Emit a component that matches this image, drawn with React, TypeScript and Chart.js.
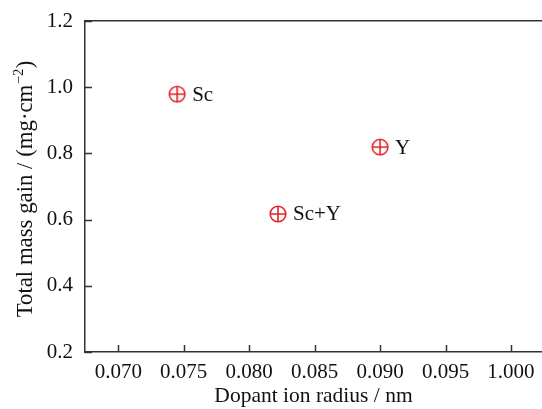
import React, { useEffect, useRef } from "react";
import { Chart, registerables } from "chart.js";

Chart.register(...registerables);

const pointLabels = ["Sc", "Sc+Y", "Y"];
const radiusValues = [0.0745, 0.0822, 0.0900];
const massGainValues = [0.979, 0.617, 0.819];
const xTickValues = [0.07, 0.075, 0.08, 0.085, 0.09, 0.095, 0.1];
const xTickLabels = ["0.070", "0.075", "0.080", "0.085", "0.090", "0.095", "1.000"];
const yTickValues = [0.2, 0.4, 0.6, 0.8, 1.0, 1.2];
const yTickLabels = ["0.2", "0.4", "0.6", "0.8", "1.0", "1.2"];
const xTitle = "Dopant ion radius / nm";
const yTitleMain = "Total mass gain / (mg·cm";
const yTitleSup = "−2";
const yTitleEnd = ")";

const FONT = "'Liberation Serif', 'Times New Roman', serif";
const RED = "#e2232a";
const AXIS = "#333333";
const W = 542;
const H = 416;

function makeMarker(): HTMLCanvasElement {
  const c = document.createElement("canvas");
  c.width = 20;
  c.height = 20;
  const g = c.getContext("2d")!;
  g.strokeStyle = RED;
  g.lineWidth = 1.6;
  g.beginPath();
  g.arc(10, 10, 7.8, 0, Math.PI * 2);
  g.stroke();
  g.beginPath();
  g.moveTo(2.2, 10);
  g.lineTo(17.8, 10);
  g.moveTo(10, 2.2);
  g.lineTo(10, 17.8);
  g.stroke();
  return c;
}

export default function App() {
  const ref = useRef<HTMLCanvasElement>(null);
  useEffect(() => {
    const marker = makeMarker();
    const innerTicks = {
      id: "innerTicks",
      afterDraw(chart: any) {
        const { ctx, chartArea, scales } = chart;
        ctx.save();
        ctx.strokeStyle = AXIS;
        ctx.lineWidth = 1.5;
        ctx.beginPath();
        xTickValues.forEach((v) => {
          const px = Math.round(scales.x.getPixelForValue(v)) + 0.5;
          ctx.moveTo(px, chartArea.bottom);
          ctx.lineTo(px, chartArea.bottom - 7);
        });
        yTickValues.forEach((v) => {
          const py = Math.round(scales.y.getPixelForValue(v)) + 0.5;
          ctx.moveTo(chartArea.left, py);
          ctx.lineTo(chartArea.left + 7, py);
        });
        ctx.stroke();
        ctx.restore();
      },
    };
    const yTitlePlugin = {
      id: "yTitle",
      afterDraw(chart: any) {
        const { ctx, chartArea } = chart;
        const cy = (chartArea.top + chartArea.bottom) / 2 + 2.5;
        ctx.save();
        ctx.translate(26, cy);
        ctx.rotate(-Math.PI / 2);
        ctx.fillStyle = "#111";
        ctx.textBaseline = "middle";
        ctx.textAlign = "left";
        const mainFont = `22.8px ${FONT}`;
        const supFont = `14.5px ${FONT}`;
        ctx.font = mainFont;
        const w1 = ctx.measureText(yTitleMain).width;
        const w3 = ctx.measureText(yTitleEnd).width;
        ctx.font = supFont;
        const w2 = ctx.measureText(yTitleSup).width + 1;
        const total = w1 + w2 + w3;
        let x = -total / 2;
        ctx.font = mainFont;
        ctx.fillText(yTitleMain, x, 0);
        x += w1;
        ctx.font = supFont;
        ctx.fillText(yTitleSup, x + 0.5, -7);
        x += w2;
        ctx.font = mainFont;
        ctx.fillText(yTitleEnd, x, 0);
        ctx.restore();
      },
    };
    const labelsPlugin = {
      id: "pointLabels",
      afterDatasetsDraw(chart: any) {
        const { ctx } = chart;
        const meta = chart.getDatasetMeta(0);
        ctx.save();
        ctx.fillStyle = "#111";
        ctx.font = `21px ${FONT}`;
        ctx.textBaseline = "middle";
        ctx.textAlign = "left";
        meta.data.forEach((pt: any, i: number) => {
          ctx.fillText(pointLabels[i], pt.x + 15, pt.y + 1);
        });
        ctx.restore();
      },
    };
    const chart = new Chart(ref.current!, {
      type: "scatter",
      data: {
        datasets: [
          {
            data: radiusValues.map((x, i) => ({ x, y: massGainValues[i] })),
            pointStyle: marker as any,
            pointRadius: 10,
          },
        ],
      },
      options: {
        animation: false,
        responsive: false,
        maintainAspectRatio: false,
        layout: { autoPadding: false, padding: { top: 20, right: 0, left: 0, bottom: 0 } },
        plugins: { legend: { display: false }, tooltip: { enabled: false } },
        scales: {
          x: {
            type: "linear",
            min: 0.06746,
            max: 0.10237,
            afterBuildTicks(scale: any) {
              scale.ticks = xTickValues.map((v) => ({ value: v }));
            },
            afterFit(scale: any) {
              scale.height = H - 352;
              scale.paddingLeft = 0;
              scale.paddingRight = 0;
            },
            ticks: {
              color: "#111",
              font: { family: FONT, size: 21 },
              padding: 8,
              maxRotation: 0,
              autoSkip: false,
              callback: (v: any) => {
                const i = xTickValues.findIndex((t) => Math.abs(t - v) < 1e-9);
                return i >= 0 ? xTickLabels[i] : "";
              },
            },
            grid: { display: true, drawOnChartArea: false, drawTicks: false, tickLength: 0 },
            border: { display: true, color: AXIS, width: 1.5 },
            title: {
              display: true,
              text: xTitle,
              color: "#111",
              font: { family: FONT, size: 21.5 },
              padding: { top: 0, bottom: 7 },
            },
          },
          top: {
            type: "linear",
            position: "top",
            min: 0,
            max: 1,
            ticks: { display: false },
            grid: { display: true, drawOnChartArea: false, drawTicks: false, tickLength: 0 },
            border: { display: true, color: AXIS, width: 1.5 },
            afterFit(scale: any) {
              scale.height = 1;
              scale.paddingLeft = 0;
              scale.paddingRight = 0;
            },
          },
          y: {
            type: "linear",
            min: 0.2,
            max: 1.2,
            afterBuildTicks(scale: any) {
              scale.ticks = yTickValues.map((v) => ({ value: v }));
            },
            afterFit(scale: any) {
              scale.width = 85;
              scale.paddingTop = 0;
              scale.paddingBottom = 0;
            },
            ticks: {
              color: "#111",
              font: { family: FONT, size: 21 },
              padding: 12,
              callback: (v: any) => {
                const i = yTickValues.findIndex((t) => Math.abs(t - v) < 1e-9);
                return i >= 0 ? yTickLabels[i] : "";
              },
            },
            grid: { display: true, drawOnChartArea: false, drawTicks: false, tickLength: 0 },
            border: { display: true, color: AXIS, width: 1.5 },
            title: { display: false },
          },
        },
      },
      plugins: [innerTicks, labelsPlugin, yTitlePlugin],
    });
    return () => chart.destroy();
  }, []);
  return (
    <div style={{ position: "fixed", left: 0, top: 0, width: W, height: H, background: "#fff" }}>
      <canvas ref={ref} width={W} height={H} style={{ width: W, height: H }} />
    </div>
  );
}
